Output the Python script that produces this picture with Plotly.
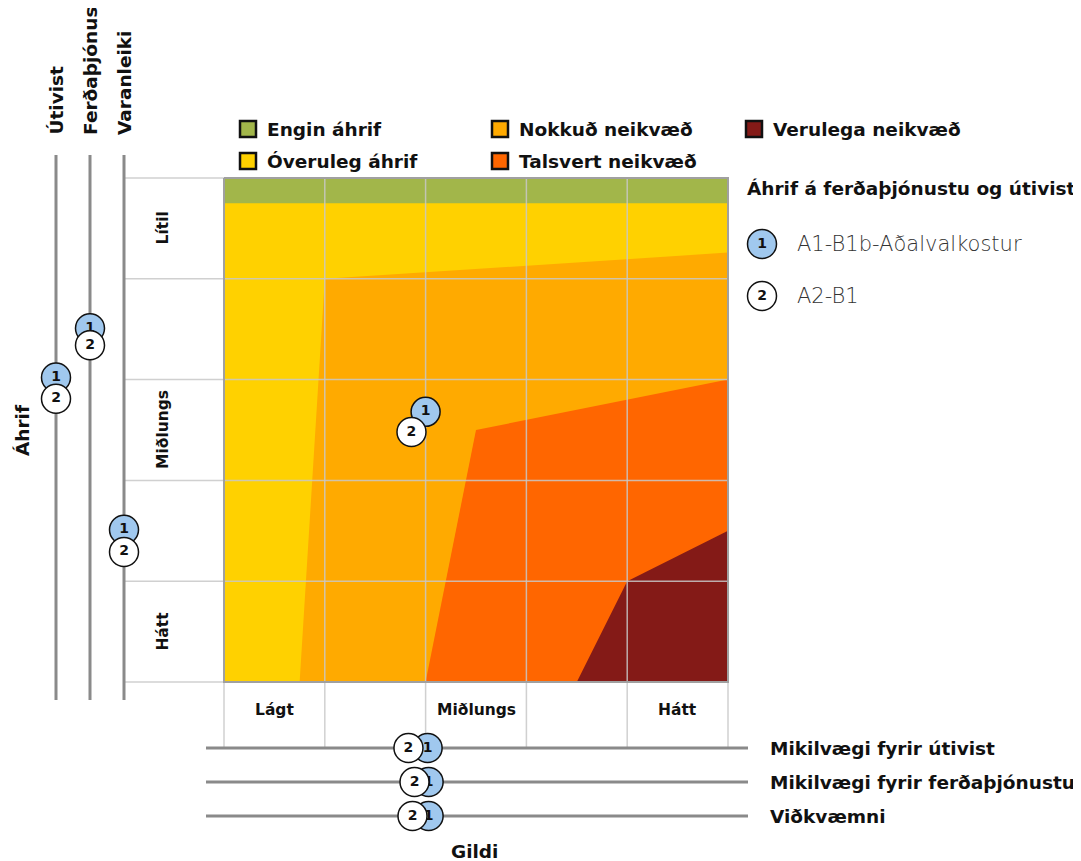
import plotly.graph_objects as go

W, H = 1081, 861
FONT = "DejaVu Sans"

# ---- data ----
zone_names = ["Engin áhrif", "Óveruleg áhrif", "Nokkuð neikvæð", "Talsvert neikvæð", "Verulega neikvæð"]
zone_colors = ["#A2B64A", "#FFD100", "#FFAA00", "#FF6600", "#841A17"]

# grid units: x = gildi (0 lágt .. 5 hátt), y = áhrif (0 lítil at top .. 5 hátt at bottom)
green_band = 0.25
orange_edge_x = [5, 1.0, 0.75]
orange_edge_y = [0.74, 1.0, 5]
talsvert_edge_x = [5, 2.5, 2.0]
talsvert_edge_y = [2.0, 2.5, 5]
verulega_edge_x = [5, 4.0, 3.5]
verulega_edge_y = [3.5, 4.0, 5]

impact_labels = ["Lítil", "Miðlungs", "Hátt"]
impact_label_pos = [0.5, 2.5, 4.5]
value_labels = ["Lágt", "Miðlungs", "Hátt"]
value_label_pos = [0.5, 2.5, 4.5]

options = ["A1-B1b-Aðalvalkostur", "A2-B1"]
option_ids = ["1", "2"]
option_fill = ["#A0C8EE", "#FFFFFF"]

# overall position in matrix
main_value = [2.0, 1.86]
main_impact = [2.32, 2.52]

left_lanes = ["Útivist", "Ferðaþjónusta", "Varanleiki"]
left_impact = {"1": [1.98, 1.49, 3.49], "2": [2.19, 1.66, 3.71]}

bottom_lanes = ["Mikilvægi fyrir útivist", "Mikilvægi fyrir ferðaþjónustu", "Viðkvæmni"]
bottom_value = {"1": [2.02, 2.03, 2.03], "2": [1.83, 1.89, 1.87]}

# ---- layout helpers (screen pixel -> grid units / paper fractions) ----
PX_L, PX_T, CELL = 224, 178, 100.8
OFF = 8  # page margin around the figure
BIG = 18.5
SMALL = 15.5


def gx(px):
    return (px - PX_L) / CELL


def gy(px):
    return (px - PX_T) / CELL


def fx(px):
    return (px - OFF) / W


def fy(px):
    return 1 - (px - OFF) / H


def bold(size):
    return dict(family=FONT, size=size, color="#111", weight="bold")


fig = go.Figure()

# zones (each drawn over the previous one)
fig.add_trace(go.Scatter(x=[0, 5, 5, 0], y=[0, 0, 5, 5], fill="toself", mode="none",
                         fillcolor=zone_colors[1], hoverinfo="skip"))
fig.add_trace(go.Scatter(x=[0, 5, 5, 0], y=[0, 0, green_band, green_band], fill="toself", mode="none",
                         fillcolor=zone_colors[0], hoverinfo="skip"))
for ex, ey, col in [(orange_edge_x, orange_edge_y, zone_colors[2]),
                    (talsvert_edge_x, talsvert_edge_y, zone_colors[3]),
                    (verulega_edge_x, verulega_edge_y, zone_colors[4])]:
    fig.add_trace(go.Scatter(x=ex + [5], y=ey + [5], fill="toself", mode="none",
                             fillcolor=col, hoverinfo="skip"))

# grid lines, with the label cells on the left and below
grid_col = "rgba(200,200,200,0.85)"
for i in range(6):
    fig.add_trace(go.Scatter(x=[gx(124), 5], y=[i, i], mode="lines",
                             line=dict(color=grid_col, width=1.5), hoverinfo="skip"))
    fig.add_trace(go.Scatter(x=[i, i], y=[0, gy(748)], mode="lines",
                             line=dict(color=grid_col, width=1.5), hoverinfo="skip"))
fig.add_trace(go.Scatter(x=[0, 5, 5, 0, 0], y=[0, 0, 5, 5, 0], mode="lines",
                         line=dict(color="#a0a0a0", width=2), hoverinfo="skip"))

# lanes on the left (áhrif per theme)
for lane in left_lanes:
    fig.add_trace(go.Scatter(x=[lane, lane], y=[gy(155), gy(700)], mode="lines",
                             line=dict(color="#8a8a8a", width=3),
                             xaxis="x2", yaxis="y", hoverinfo="skip"))
    fig.add_annotation(x=lane, xref="x2", y=fy(137), yref="paper", text=lane, textangle=-90,
                       showarrow=False, xanchor="center", yanchor="bottom", font=bold(BIG))
# lanes at the bottom (gildi per theme)
for lane in bottom_lanes:
    fig.add_trace(go.Scatter(x=[gx(206), gx(748)], y=[lane, lane], mode="lines",
                             line=dict(color="#8a8a8a", width=3),
                             xaxis="x", yaxis="y2", hoverinfo="skip"))
    fig.add_annotation(x=gx(768), y=lane, yref="y2", text=lane, showarrow=False,
                       xanchor="left", font=bold(BIG))


def option_markers(x, y, k, xa="x", ya="y"):
    fig.add_trace(go.Scatter(
        x=x, y=y, mode="markers+text", text=[option_ids[k]] * len(x),
        textposition="middle center", textfont=bold(14),
        marker=dict(size=29, color=option_fill[k], line=dict(color="#111", width=1.5)),
        xaxis=xa, yaxis=ya, cliponaxis=False, hoverinfo="skip"))


for k, oid in enumerate(option_ids):
    option_markers([main_value[k]], [main_impact[k]], k)
    option_markers(left_lanes, left_impact[oid], k, xa="x2")
    option_markers(bottom_value[oid], bottom_lanes, k, ya="y2")

# legend for zones
legend_slots = [(248, 129), (248, 161), (500, 129), (500, 161), (754, 129)]
for name, col, (px, py) in zip(zone_names, zone_colors, legend_slots):
    fig.add_trace(go.Scatter(x=[gx(px)], y=[gy(py)], mode="markers",
                             marker=dict(symbol="square", size=16, color=col,
                                         line=dict(color="#111", width=2.5)),
                             cliponaxis=False, hoverinfo="skip"))
    fig.add_annotation(x=gx(px + 17), y=gy(py), text=name, showarrow=False, xanchor="left",
                       font=bold(BIG))

# legend for options
fig.add_annotation(x=gx(745), y=gy(188), text="Áhrif á ferðaþjónustu og útivist", showarrow=False,
                   xanchor="left", font=bold(BIG))
for k, py in enumerate([244, 296]):
    option_markers([gx(762)], [gy(py)], k)
    fig.add_annotation(x=gx(795), y=gy(py), text=options[k], showarrow=False, xanchor="left",
                       font=dict(family=FONT, size=21, color="#333", weight=300))

# row / column labels
for lab, pos in zip(impact_labels, impact_label_pos):
    fig.add_annotation(x=gx(163), y=pos, text=lab, textangle=-90, showarrow=False,
                       font=bold(SMALL))
for lab, pos in zip(value_labels, value_label_pos):
    fig.add_annotation(x=pos, y=gy(710), text=lab, showarrow=False, font=bold(SMALL))

fig.add_annotation(x=gx(22), y=gy(430), text="Áhrif", textangle=-90, showarrow=False,
                   font=bold(BIG))
fig.add_annotation(x=gx(474), y=gy(851), text="Gildi", showarrow=False, font=bold(BIG))

fig.update_layout(
    width=W, height=H,
    margin=dict(l=0, r=0, t=0, b=0),
    paper_bgcolor="white", plot_bgcolor="rgba(0,0,0,0)",
    showlegend=False,
    xaxis=dict(domain=[0, 1], range=[gx(OFF), gx(OFF + W)], visible=False),
    yaxis=dict(domain=[0, 1], range=[gy(OFF + H), gy(OFF)], visible=False),
    xaxis2=dict(type="category", categoryarray=left_lanes, range=[-0.5, 2.5],
                domain=[fx(39), fx(141)], anchor="y", visible=False),
    yaxis2=dict(type="category", categoryarray=bottom_lanes, range=[2.5, -0.5],
                domain=[fy(833), fy(731)], anchor="x", visible=False),
)

fig.write_html("out.html")
